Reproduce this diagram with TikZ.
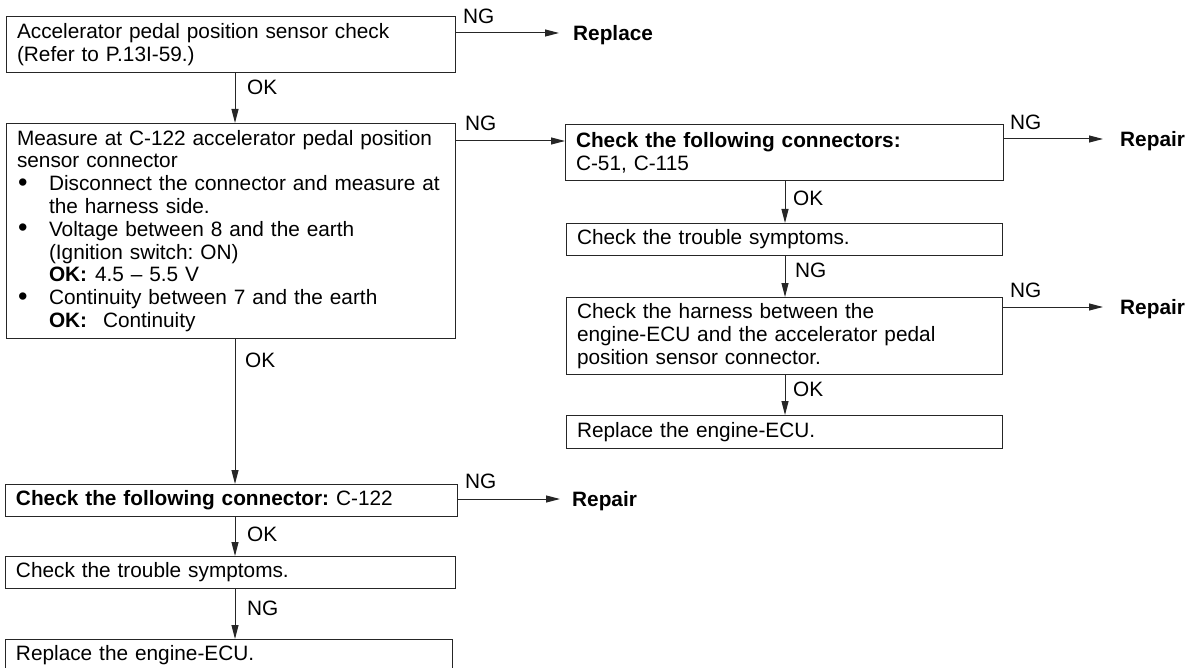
\documentclass[tikz,border=0pt]{standalone}
\usepackage{fontspec}
\setmainfont{Liberation Sans}
\usetikzlibrary{arrows.meta,calc}
\newcommand{\mybul}{\makebox[32pt][l]{\hspace*{1pt}\smash{\raisebox{-0.5pt}{\scalebox{1.3}{•}}}}}
\newcommand{\myind}{\hspace*{32pt}}
\newcommand{\mytxtfont}{\fontsize{20.8}{22.8}\selectfont\frenchspacing}
\tikzset{
  txt/.style={font=\mytxtfont},
  box/.style={txt, draw=black!85, line width=1pt, anchor=north west,
    inner xsep=10.5pt, inner ysep=0pt, align=left},
  lbl/.style={txt, inner sep=0pt, anchor=west, text height=14.5pt, text depth=0pt},
  res/.style={lbl, font=\mytxtfont\bfseries},
  arr/.style={draw=black!85, line width=1pt, -{Triangle[length=14pt,width=7pt]}}
}
\begin{document}
\begin{tikzpicture}[x=1pt,y=-1pt]
\useasboundingbox (0,0) rectangle (1188,668);
\coordinate (xl) at (235,0);
\coordinate (xr) at (785,0);

% left column
\node[box, text width=428pt, minimum height=56pt] (b1) at (6,16)
  {\mbox{Accelerator pedal position sensor check}\\(Refer to P.13I-59.)};
\node[box, text width=428pt, minimum height=215pt] (b2) at (6,123)
  {\mbox{Measure at C-122 accelerator pedal position}\\
   sensor connector\\
   \mbox{\mybul Disconnect the connector and measure at}\\
   \mbox{\myind the harness side.}\\
   \mbox{\mybul Voltage between 8 and the earth}\\
   \mbox{\myind (Ignition switch: ON)}\\
   \mbox{\myind\makebox[46pt][l]{\textbf{OK:}}4.5 – 5.5 V}\\
   \mbox{\mybul Continuity between 7 and the earth}\\
   \mbox{\myind\makebox[54pt][l]{\textbf{OK:}}Continuity}};
\node[box, text width=431pt, minimum height=32pt] (b7) at (5,484)
  {\mbox{\textbf{Check the following connector:} C-122}};
\node[box, text width=429pt, minimum height=32pt] (b8) at (5,556)
  {Check the trouble symptoms.};
\node[box, text width=426pt, minimum height=32pt] (b9) at (5,639)
  {Replace the engine-ECU.};

% right column
\node[box, text width=417pt, minimum height=56pt] (b3) at (565,124)
  {\mbox{\textbf{Check the following connectors:}}\\C-51, C-115};
\node[box, text width=415pt, minimum height=32pt] (b4) at (566,223)
  {Check the trouble symptoms.};
\node[box, text width=415pt, minimum height=77pt] (b5) at (566,297)
  {\mbox{Check the harness between the}\\
   \mbox{engine-ECU and the accelerator pedal}\\
   position sensor connector.};
\node[box, text width=415pt, minimum height=33pt] (b6) at (566,415)
  {Replace the engine-ECU.};

% results
\node[res] (r1) at (573,33) {Replace};
\node[res] (r2) at (1120,139) {Repair};
\node[res] (r3) at (1120,307) {Repair};
\node[res] (r4) at (572,499) {Repair};

% horizontal NG connectors
\coordinate (t2) at (b3.west |- 0,141);
\draw[arr, shorten >=14pt] (b1.east |- r1.west) -- (r1.west);
\draw[arr] (b2.east |- t2) -- (t2);
\draw[arr, shorten >=17pt] (b3.east |- r2.west) -- (r2.west);
\draw[arr, shorten >=17pt] (b5.east |- r3.west) -- (r3.west);
\draw[arr, shorten >=12pt] (b7.east |- r4.west) -- (r4.west);

\node[lbl] (n1) at (463,16) {NG};
\node[lbl] (n2) at (465,123) {NG};
\node[lbl] (n3) at (1010,122) {NG};
\node[lbl] (n4) at (1010,290) {NG};
\node[lbl] (n5) at (465,481) {NG};

% vertical connectors
\draw[arr] (xl |- b1.south) -- (xl |- b2.north);
\draw[arr] (xl |- b2.south) -- (xl |- b7.north);
\draw[arr] (xl |- b7.south) -- (xl |- b8.north);
\draw[arr] (xl |- b8.south) -- (xl |- b9.north);
\draw[arr] (xr |- b3.south) -- (xr |- b4.north);
\draw[arr] (xr |- b4.south) -- (xr |- b5.north);
\draw[arr] (xr |- b5.south) -- (xr |- b6.north);

\node[lbl] (o1) at (247,87) {OK};
\node[lbl] (o2) at (245,360) {OK};
\node[lbl] (o3) at (247,534) {OK};
\node[lbl] (o4) at (247,608) {NG};
\node[lbl] (o5) at (793,198) {OK};
\node[lbl] (o6) at (795,270) {NG};
\node[lbl] (o7) at (793,389) {OK};
\end{tikzpicture}
\end{document}
